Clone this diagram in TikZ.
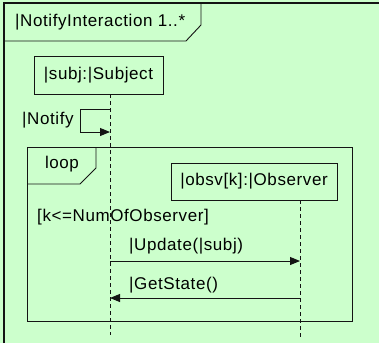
\documentclass[tikz,border=0pt]{standalone}
\usepackage{fontspec}
\setmainfont{Liberation Sans}[LetterSpace=3.5]
\usetikzlibrary{arrows.meta}
\definecolor{bg}{RGB}{204,255,204}
\definecolor{ln}{RGB}{20,20,20}
\begin{document}
\begin{tikzpicture}[x=1pt,y=-1pt,
  txt/.style={font=\fontsize{17}{19}\selectfont, inner sep=0pt},
  lbl/.style={txt, anchor=west},
  objbox/.style={draw=ln, line width=0.9pt, fill=bg, txt},
  frameline/.style={draw=ln, line width=0.9pt},
  lifeline/.style={draw=ln, line width=0.8pt, dash pattern=on 4pt off 3pt},
  msg/.style={draw=ln, line width=0.9pt, -{Triangle[length=10pt,width=8pt]}}]
\fill[bg] (0,0) rectangle (379,343);
\useasboundingbox (0,0) rectangle (379,343);
% outer frame (extends past right and bottom)
\draw[ln, line width=1.3pt] (4,343) -- (4,3) -- (379,3);
\draw[frameline] (4,41) -- (186,41) -- (201,25) -- (201,3);
\node[lbl] (title) at (15,22) {|NotifyInteraction 1..*};
% subject
\node[objbox, minimum width=129pt, minimum height=38pt] (subj) at (98.5,75) {|subj:|Subject};
\coordinate (sTop) at (110,94);
\coordinate (sBot) at (110,335);
\draw[lifeline] (sTop) -- (sBot);
% self message
\coordinate (n1) at (110,109);
\coordinate (n2) at (80,109);
\coordinate (n3) at (80,132);
\coordinate (n4) at (110,132);
\draw[msg] (n1) -- (n2) -- (n3) -- (n4);
\node[lbl] (notify) at (22,120) {|Notify};
% loop frame
\draw[frameline] (27,147) rectangle (352,321);
\draw[frameline] (27,184) -- (80,184) -- (96,168) -- (96,147);
\node[txt] (loop) at (62,164) {loop};
% observer
\node[objbox, minimum width=166pt, minimum height=37pt] (obs) at (254,181.5) {|obsv[k]:|Observer};
\coordinate (oTop) at (300,200);
\coordinate (oBot) at (300,337);
\draw[lifeline] (oTop) -- (oBot);
\node[lbl] (guard) at (37,217) {[k<=NumOfObserver]};
% messages
\coordinate (u1) at (110,261);
\coordinate (u2) at (300,261);
\draw[msg] (u1) -- (u2);
\node[lbl] (upd) at (129,246) {|Update(|subj)};
\coordinate (g1) at (300,298);
\coordinate (g2) at (110,298);
\draw[msg] (g1) -- (g2);
\node[lbl] (gst) at (129,285) {|GetState()};
\end{tikzpicture}
\end{document}
